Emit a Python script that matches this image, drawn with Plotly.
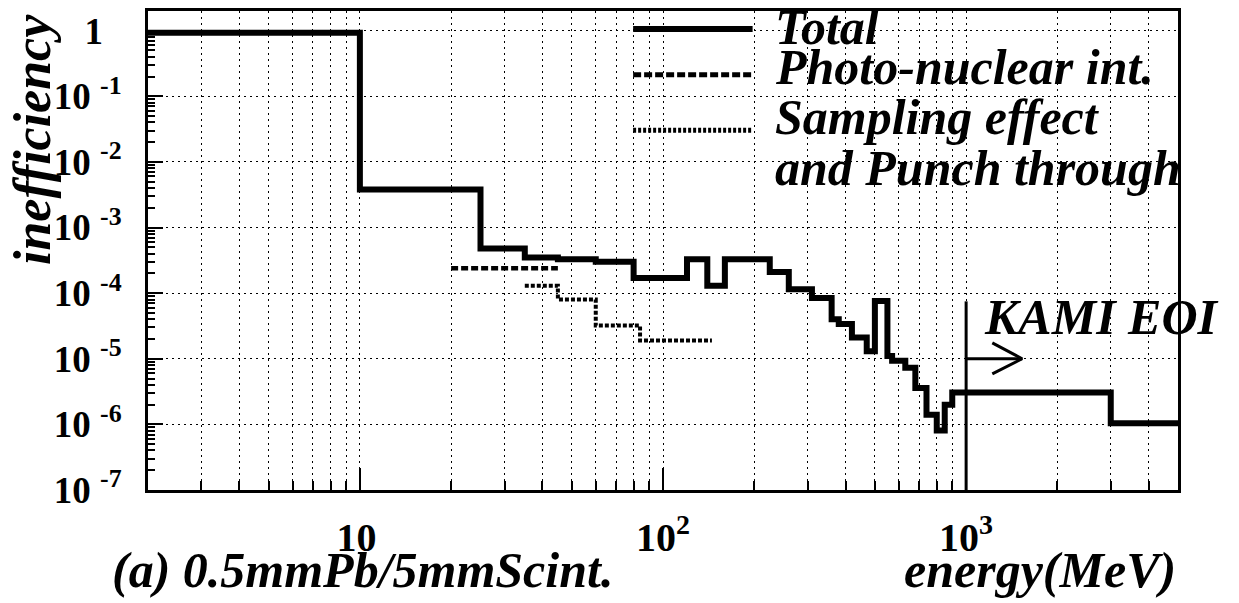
import numpy as np
import plotly.graph_objects as go

# ---------------- data ----------------
total_edges = [2, 10, 25, 35, 45, 60, 80, 120, 140, 160, 225, 260, 310, 360, 380,
               420, 470, 500, 550, 570, 630, 680, 740, 800, 850, 900, 3000, 5000]
total_values = [0.93, 3.8e-3, 4.8e-4, 3.5e-4, 3.3e-4, 3.0e-4, 1.7e-4, 3.3e-4, 1.3e-4,
                3.3e-4, 2.1e-4, 1.15e-4, 8.4e-5, 4.0e-5, 3.4e-5, 2.1e-5, 1.3e-5,
                7.6e-5, 1.1e-5, 9.3e-6, 7.3e-6, 3.6e-6, 1.4e-6, 8.1e-7, 2.0e-6,
                3.05e-6, 1.04e-6]

photo_edges = [20, 45]
photo_values = [2.4e-4]

sampling_edges = [35, 45, 60, 84, 145]
sampling_values = [1.3e-4, 8.0e-5, 3.2e-5, 1.9e-5]

# "KAMI EOI" marker (threshold line and arrow)
eoi_line_x = [1000, 1000]
eoi_line_y = [7.5e-5, 1e-7]
eoi_arrow_x = [1000, 1530]
eoi_arrow_y = [1e-5, 1e-5]
eoi_head_x = [1220, 1530, 1220]
eoi_head_y = [1.75e-5, 1e-5, 5.9e-6]

x_tickvals = [10, 100, 1000]
x_ticktext = ["10<sup>\u00a0</sup>", "10<sup>2</sup>", "10<sup>3</sup>"]
x_minor = [3, 4, 5, 6, 7, 8, 9, 20, 30, 40, 50, 60, 70, 80, 90,
           200, 300, 400, 500, 600, 700, 800, 900, 2000, 3000, 4000]
y_tickvals = [1e-7, 1e-6, 1e-5, 1e-4, 1e-3, 1e-2, 1e-1, 1]
y_ticktext = ["10\u00a0<sup>-7</sup>", "10\u00a0<sup>-6</sup>", "10\u00a0<sup>-5</sup>",
              "10\u00a0<sup>-4</sup>", "10\u00a0<sup>-3</sup>", "10\u00a0<sup>-2</sup>",
              "10\u00a0<sup>-1</sup>", "1\u00a0\u00a0"]
y_minor = [m * 10.0 ** e for e in range(-7, 0) for m in range(2, 10)]

legend_labels = ["Total", "Photo-nuclear int.", "Sampling effect", "and Punch through"]

# ---------------- figure ----------------
SERIF = "Liberation Serif"


def step_xy(edges, values):
    return list(edges), list(values) + [values[-1]]


fig = go.Figure()

sx, sy = step_xy(sampling_edges, sampling_values)
fig.add_trace(go.Scatter(x=sx, y=sy, mode="lines",
                         line=dict(shape="hv", color="black", width=4, dash="4px,2px"),
                         showlegend=False, hoverinfo="skip"))
px_, py_ = step_xy(photo_edges, photo_values)
fig.add_trace(go.Scatter(x=px_, y=py_, mode="lines",
                         line=dict(shape="hv", color="black", width=4.5, dash="7px,3px"),
                         showlegend=False, hoverinfo="skip"))
tx, ty = step_xy(total_edges, total_values)
fig.add_trace(go.Scatter(x=tx, y=ty, mode="lines",
                         line=dict(shape="hv", color="black", width=6),
                         showlegend=False, hoverinfo="skip"))

# KAMI EOI marker
fig.add_trace(go.Scatter(x=eoi_line_x, y=eoi_line_y, mode="lines",
                         line=dict(color="black", width=3), showlegend=False, hoverinfo="skip"))
fig.add_trace(go.Scatter(x=eoi_arrow_x, y=eoi_arrow_y, mode="lines",
                         line=dict(color="black", width=3), showlegend=False, hoverinfo="skip"))
fig.add_trace(go.Scatter(x=eoi_head_x, y=eoi_head_y, mode="lines",
                         line=dict(color="black", width=3), showlegend=False, hoverinfo="skip"))

GRID_DASH = "2px,4px"
fig.update_xaxes(
    type="log", range=[np.log10(2), np.log10(5000)],
    tickmode="array", tickvals=x_tickvals, ticktext=x_ticktext,
    ticks="inside", ticklen=22, tickwidth=2, tickcolor="black",
    ticklabelstandoff=10,
    tickfont=dict(family=SERIF, size=40, color="black", weight="bold"),
    showgrid=True, gridcolor="black", gridwidth=1.2, griddash=GRID_DASH,
    minor=dict(tickmode="array", tickvals=x_minor, ticks="inside", ticklen=9,
               tickwidth=1.5, tickcolor="black", showgrid=True, gridcolor="black",
               gridwidth=1.2, griddash=GRID_DASH),
    showline=True, linecolor="black", linewidth=3, mirror=True, zeroline=False,
)
fig.update_yaxes(
    type="log", range=[-7, 0.3],
    tickmode="array", tickvals=y_tickvals, ticktext=y_ticktext,
    ticks="inside", ticklen=15, tickwidth=2, tickcolor="black",
    ticklabelstandoff=16,
    tickfont=dict(family=SERIF, size=37, color="black", weight="bold"),
    showgrid=True, gridcolor="black", gridwidth=1.2, griddash=GRID_DASH,
    minor=dict(tickmode="array", tickvals=y_minor, ticks="inside", ticklen=7,
               tickwidth=1.5, tickcolor="black", showgrid=False),
    showline=True, linecolor="black", linewidth=3, mirror=True, zeroline=False,
)

# hand-drawn legend (sample lines + labels)
leg_x0, leg_x1 = 0.471, 0.587
leg_line_y = [0.9625, 0.867, 0.751]
leg_dash = ["solid", "8px,3px", "3px,2px"]
leg_width = [6, 5, 5]
for yy, dd, ww in zip(leg_line_y, leg_dash, leg_width):
    fig.add_shape(type="line", xref="paper", yref="paper", x0=leg_x0, x1=leg_x1,
                  y0=yy, y1=yy, line=dict(color="black", width=ww, dash=dd))

ital = dict(family=SERIF, size=50, color="black", weight="bold", style="italic")
leg_text_y = [0.967, 0.883, 0.779, 0.672]
for txt, yy in zip(legend_labels, leg_text_y):
    fig.add_annotation(text=txt, xref="paper", yref="paper", x=0.607, y=yy,
                       xanchor="left", yanchor="middle", showarrow=False, font=ital)

fig.add_annotation(text="KAMI EOI", xref="paper", yref="paper", x=0.81, y=0.362,
                   xanchor="left", yanchor="middle", showarrow=False, font=ital)
fig.add_annotation(text="inefficiency", xref="paper", yref="paper", x=-0.112, y=0.732,
                   xanchor="center", yanchor="middle", textangle=-90, showarrow=False,
                   font=dict(family=SERIF, size=52, color="black", weight="bold", style="italic"))
fig.add_annotation(text="(a) 0.5mmPb/5mmScint.", xref="paper", yref="paper", x=-0.037, y=-0.168,
                   xanchor="left", yanchor="middle", showarrow=False, font=ital)
fig.add_annotation(text="energy(MeV)", xref="paper", yref="paper", x=1.0, y=-0.168,
                   xanchor="right", yanchor="middle", showarrow=False, font=ital)

fig.update_layout(
    width=1239, height=603,
    margin=dict(l=148, r=61, t=8, b=113),
    paper_bgcolor="white", plot_bgcolor="white",
    showlegend=False,
)

fig.write_html("out.html", config={"displayModeBar": False},
               post_script="document.body.style.margin='0';document.body.style.overflow='hidden';")
